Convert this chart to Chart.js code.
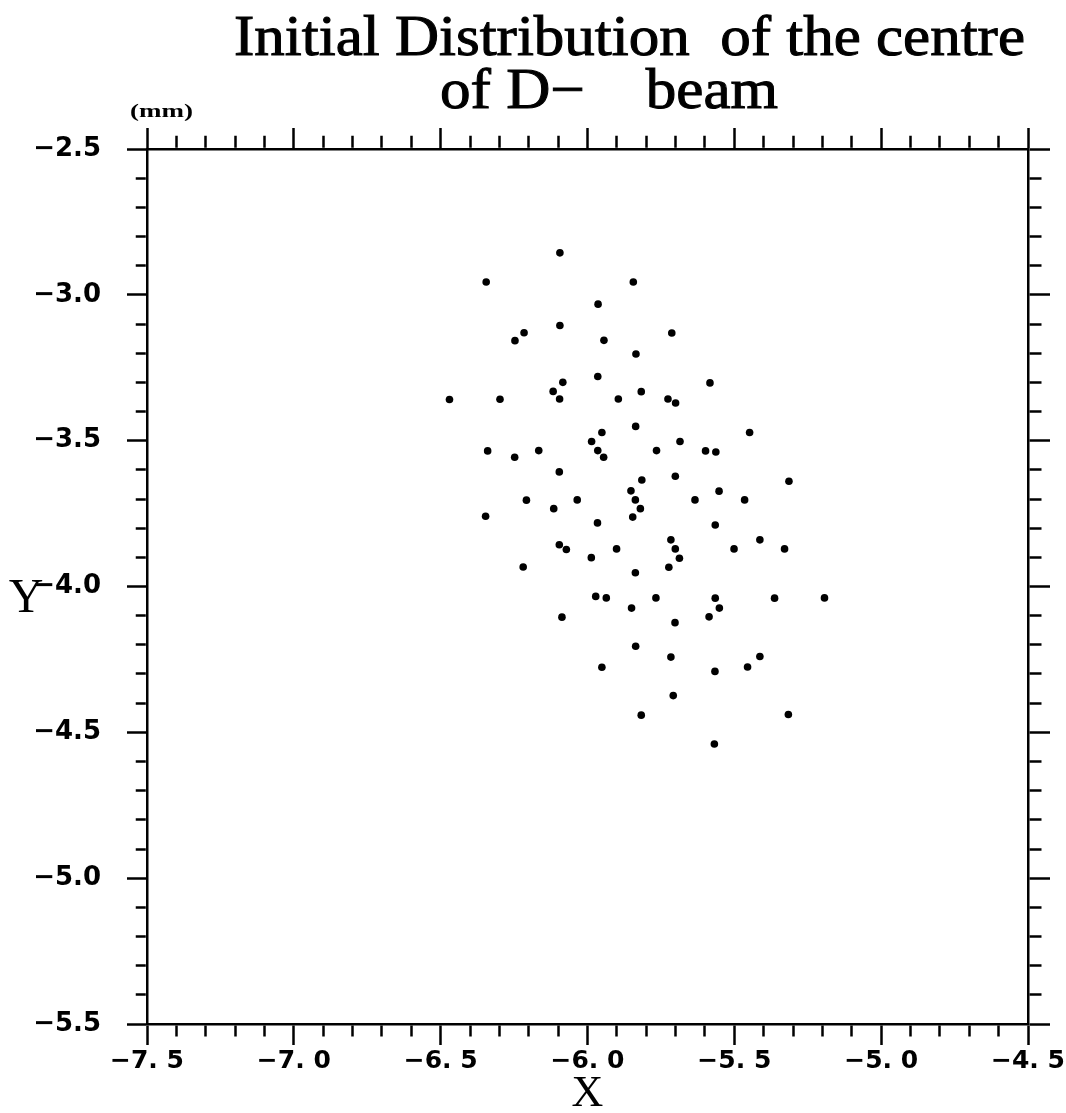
<!DOCTYPE html>
<html>
<head>
<meta charset="utf-8">
<title>Initial Distribution of the centre of D- beam</title>
<script src="https://cdn.jsdelivr.net/npm/chart.js@4.4.1/dist/chart.umd.min.js"></script>
<style>
  html, body { margin: 0; padding: 0; background: #fff; }
</style>
</head>
<body>
<canvas id="beam" width="1066" height="1113"></canvas>
<script>
// beam centre positions (mm)
const xCentre = [
  -6.094, -6.345, -5.844, -5.964, -6.094, -6.216, -6.247, -5.944, -5.835, -5.965,
  -6.084, -6.117, -6.095, -6.470, -6.298, -5.895, -5.713, -5.583, -5.817, -5.726,
  -5.700, -5.836, -5.951, -5.986, -6.340, -6.248, -6.166, -5.965, -5.945, -6.096,
  -5.852, -5.837, -5.820, -5.846, -6.208, -6.035, -6.115, -6.347, -5.966, -6.096,
  -6.072, -5.901, -5.987, -6.219, -5.837, -5.815, -5.685, -5.765, -5.598, -5.563,
  -5.448, -5.701, -5.314, -5.634, -5.552, -5.465, -5.565, -5.716, -5.701, -5.687,
  -5.723, -5.413, -5.501, -5.329, -5.972, -5.936, -5.850, -6.087, -5.836, -5.951,
  -5.817, -5.767, -5.565, -5.551, -5.586, -5.363, -5.193, -5.702, -5.716, -5.413,
  -5.455, -5.566, -5.708, -5.316, -5.568
];
const yCentre = [
  -2.856, -2.956, -2.956, -3.032, -3.105, -3.130, -3.157, -3.156, -3.203, -3.280,
  -3.300, -3.331, -3.357, -3.359, -3.358, -3.357, -3.131, -3.302, -3.332, -3.357,
  -3.371, -3.451, -3.472, -3.503, -3.535, -3.557, -3.534, -3.534, -3.557, -3.607,
  -3.672, -3.703, -3.733, -3.762, -3.704, -3.703, -3.733, -3.759, -3.782, -3.857,
  -3.873, -3.871, -3.901, -3.933, -3.953, -3.635, -3.503, -3.534, -3.535, -3.539,
  -3.472, -3.622, -3.639, -3.703, -3.673, -3.703, -3.789, -3.840, -3.871, -3.903,
  -3.934, -3.840, -3.871, -3.871, -4.034, -4.039, -4.074, -4.105, -4.205, -4.277,
  -4.441, -4.039, -4.040, -4.074, -4.104, -4.040, -4.039, -4.124, -4.242, -4.240,
  -4.276, -4.291, -4.374, -4.439, -4.540
];

const xTickValues = [-7.5, -7.0, -6.5, -6.0, -5.5, -5.0, -4.5];
const xTickLabels = ["\u22127. 5", "\u22127. 0", "\u22126. 5", "\u22126. 0", "\u22125. 5", "\u22125. 0", "\u22124. 5"];
const yTickValues = [-2.5, -3.0, -3.5, -4.0, -4.5, -5.0, -5.5];
const yTickLabels = ["\u22122.5", "\u22123.0", "\u22123.5", "\u22124.0", "\u22124.5", "\u22125.0", "\u22125.5"];

const titleLines = ["Initial Distribution  of the centre", "of D\u2212    beam"];

function labelFor(values, labels) {
  return value => {
    const i = values.findIndex(v => Math.abs(v - value) < 1e-6);
    return i < 0 ? '' : labels[i];
  };
}

function isMajor(v) {
  return Math.abs(v * 2 - Math.round(v * 2)) < 1e-6;
}

// one scale per frame side; minor ticks keep only the part of the
// tick line next to the axis (top/left tick lines start at the outer end)
function side(pos, len, minor, fromOuter, extra) {
  const line = len - 1.25;
  const dash = fromOuter ? [0, line - minor, minor, 1000] : [minor, 1000];
  return Object.assign({
    type: 'linear',
    position: pos,
    border: { color: '#000', width: 2.5 },
    grid: {
      drawOnChartArea: false,
      tickLength: len,
      tickWidth: 2.5,
      tickColor: '#000',
      tickBorderDash: ctx => (!ctx.tick || isMajor(ctx.tick.value)) ? [] : dash
    }
  }, extra);
}

const tickFontX = { family: 'DejaVu Sans', size: 25, weight: 'bold' };
const tickFontY = { family: 'DejaVu Sans', size: 26, weight: 'bold' };

const beamText = {
  id: 'beamText',
  afterDraw(chart) {
    const { ctx, chartArea, scales } = chart;
    ctx.save();
    ctx.fillStyle = '#000';
    ctx.strokeStyle = '#000';

    // text squeezed to span [left, right]
    const fit = (text, left, right, base, font, weight) => {
      ctx.save();
      ctx.font = font;
      ctx.textBaseline = 'alphabetic';
      const w = ctx.measureText(text).width;
      ctx.translate(left, base);
      ctx.scale((right - left) / w, 1);
      ctx.fillText(text, 0, 0);
      if (weight) {
        ctx.lineWidth = weight;
        ctx.strokeText(text, 0, 0);
      }
      ctx.restore();
    };
    fit(titleLines[0], 234, chartArea.right - 3, 55, '56px "Liberation Serif"', 1);
    fit(titleLines[1], 440, 778, 108, '56px "Liberation Serif"', 1);
    fit('(mm)', chartArea.left - 17, chartArea.left + 46, chartArea.top - 32, 'bold 19px "Liberation Serif"', 0);

    ctx.textAlign = 'center';
    ctx.textBaseline = 'middle';
    ctx.font = '48px "Liberation Serif"';
    ctx.fillText('Y', 26, scales.y.getPixelForValue(-4.0) + 13);

    ctx.font = '44px "Liberation Serif"';
    ctx.fillText('X', scales.x.getPixelForValue(-6.0), chartArea.bottom + 70);
    ctx.restore();
  }
};

new Chart(document.getElementById('beam'), {
  type: 'scatter',
  data: {
    datasets: [{
      data: xCentre.map((x, i) => ({ x, y: yCentre[i] })),
      pointStyle: 'circle',
      pointRadius: 3.8,
      pointBackgroundColor: '#000',
      pointBorderWidth: 0
    }]
  },
  options: {
    responsive: false,
    animation: false,
    devicePixelRatio: 1,
    layout: { padding: 0 },
    plugins: { legend: { display: false }, tooltip: { enabled: false } },
    scales: {
      x: side('bottom', 21, 11, false, {
        min: -7.5, max: -4.5,
        afterFit: s => { s.height = 89; s.paddingLeft = 0; s.paddingRight = 0; },
        ticks: {
          stepSize: 0.1, autoSkip: false, maxRotation: 0, minRotation: 0,
          padding: 1, color: '#000', font: tickFontX,
          callback: labelFor(xTickValues, xTickLabels)
        }
      }),
      x2: side('top', 21, 12, true, {
        axis: 'x', min: -7.5, max: -4.5,
        afterFit: s => { s.height = 149; s.paddingLeft = 0; s.paddingRight = 0; },
        ticks: { stepSize: 0.1, autoSkip: false, display: false }
      }),
      y: side('left', 20, 10, true, {
        min: -5.5, max: -2.5,
        afterFit: s => { s.width = 147; s.paddingTop = 0; s.paddingBottom = 0; },
        ticks: {
          stepSize: 0.1, autoSkip: false, padding: 26, color: '#000', font: tickFontY,
          callback: labelFor(yTickValues, yTickLabels)
        }
      }),
      y2: side('right', 22, 12, false, {
        axis: 'y', min: -5.5, max: -2.5,
        afterFit: s => { s.width = 38; s.paddingTop = 0; s.paddingBottom = 0; },
        ticks: { stepSize: 0.1, autoSkip: false, display: false }
      })
    }
  },
  plugins: [beamText]
});
</script>
</body>
</html>
